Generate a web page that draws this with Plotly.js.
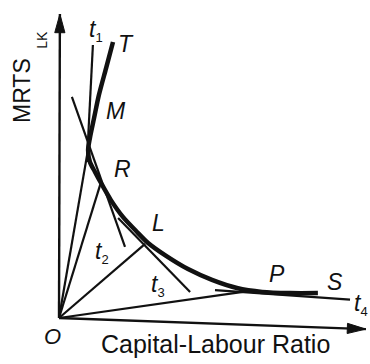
<!DOCTYPE html>
<html>
<head>
<meta charset="utf-8">
<script src="https://cdn.plot.ly/plotly-3.0.1.min.js"></script>
<style>
html, body { margin: 0; padding: 0; background: #fff; }
#chart { width: 370px; height: 364px; }
</style>
</head>
<body>
<div id="chart"></div>
<script>
// Isoquant running from T down to S (diagram units, O at the origin)
const curveX = [1.80, 1.57, 1.33, 1.17, 1.03, 0.97, 1.03, 1.20, 1.40, 1.73, 2.13, 2.57, 2.97, 3.57, 4.30, 5.10, 5.93, 6.77, 7.70, 8.63];
const curveY = [9.20, 8.33, 7.43, 6.67, 6.00, 5.60, 5.20, 4.87, 4.50, 3.93, 3.37, 2.90, 2.50, 2.07, 1.63, 1.27, 1.00, 0.87, 0.83, 0.83];

// Points on the isoquant, each joined to O by a ray
const pointNames = ['M', 'R', 'L', 'P'];
const pointX = [0.97, 1.40, 2.87, 6.13];
const pointY = [5.63, 4.53, 2.47, 0.87];

// Tangents t1..t4: start and end of each segment
const tangentNames = ['t1', 't2', 't3', 't4'];
const tangentX0 = [1.13, 0.43, 1.97, 5.20];
const tangentY0 = [9.10, 7.37, 3.33, 0.93];
const tangentX1 = [0.93, 2.20, 4.37, 9.70];
const tangentY1 = [5.20, 2.37, 0.87, 0.61];

// Axis arrow tips: [x-axis, y-axis]
const axisTipX = [10.23, 0.03];
const axisTipY = [-0.37, 10.13];

// Text
const xTitle = 'Capital-Labour Ratio';
const yTitle = 'MRTS';
const yTitleSub = 'LK';
const originLabel = 'O';
const endLabels = ['T', 'S'];

const INK = '#111';
const FONT = 'Liberation Sans, Arial, Helvetica, sans-serif';

function segs(x0, y0, x1, y1) {
  const xs = [], ys = [];
  for (let i = 0; i < x0.length; i++) {
    xs.push(x0[i], x1[i], null);
    ys.push(y0[i], y1[i], null);
  }
  return { xs, ys };
}

const rays = segs(pointX.map(() => 0), pointY.map(() => 0), pointX, pointY);
const tans = segs(tangentX0, tangentY0, tangentX1, tangentY1);
const axes = segs([0, 0], [0, 0], axisTipX, axisTipY);

const traces = [
  { x: axes.xs, y: axes.ys, mode: 'lines', line: { color: INK, width: 2.4 }, hoverinfo: 'skip' },
  { x: rays.xs, y: rays.ys, mode: 'lines', line: { color: INK, width: 2.2 }, hoverinfo: 'skip' },
  { x: tans.xs, y: tans.ys, mode: 'lines', line: { color: INK, width: 2.2 }, hoverinfo: 'skip' },
  { x: curveX, y: curveY, mode: 'lines', line: { color: INK, width: 4.5, shape: 'spline', smoothing: 0.8 }, hoverinfo: 'skip' }
];

// Arrowheads at the axis tips, pointing along each axis
function headPath(tx, ty, len, half) {
  const d = Math.hypot(tx, ty), ux = tx / d, uy = ty / d;
  const bx = tx - ux * len, by = ty - uy * len;
  const nx = -uy * half, ny = ux * half;
  return `M${tx},${ty} L${bx + nx},${by + ny} L${bx - nx},${by - ny} Z`;
}
const shapes = axisTipX.map((tx, i) => ({
  type: 'path', xref: 'x', yref: 'y',
  path: headPath(tx, axisTipY[i], 0.62, 0.17),
  fillcolor: INK, line: { color: INK, width: 1 }
}));

// Label placement
const pointLabelPos = { M: [1.90, 6.90], R: [2.13, 4.97], L: [3.30, 3.17], P: [7.27, 1.47] };
const endLabelPos = { T: [2.23, 9.13], S: [9.20, 1.20] };
const tangentLabelPos = [[1.23, 9.57], [1.43, 2.17], [3.30, 1.10], [9.76, 0.45]];

const ann = [];
const base = { xref: 'x', yref: 'y', showarrow: false, font: { family: FONT, size: 23, color: INK } };
pointNames.forEach(n => ann.push({ ...base, x: pointLabelPos[n][0], y: pointLabelPos[n][1], text: `<i>${n}</i>` }));
endLabels.forEach(n => ann.push({ ...base, x: endLabelPos[n][0], y: endLabelPos[n][1], text: `<i>${n}</i>` }));
tangentNames.forEach((n, i) => {
  const a = { ...base, x: tangentLabelPos[i][0], y: tangentLabelPos[i][1],
    text: `<i>t</i><sub><span style="font-size:13px">${n.slice(1)}</span></sub>` };
  if (i === 3) a.xanchor = 'left';
  ann.push(a);
});
ann.push({ ...base, x: -0.23, y: -0.63, text: `<i>${originLabel}</i>`, font: { family: FONT, size: 22, color: INK } });
ann.push({ ...base, x: 5.20, y: -0.87, text: xTitle, font: { family: FONT, size: 25, color: INK } });
ann.push({ ...base, x: -1.23, y: 7.57, text: yTitle, textangle: -90, font: { family: FONT, size: 23, color: INK } });
ann.push({ ...base, x: -0.57, y: 9.27, text: yTitleSub, textangle: -90, font: { family: FONT, size: 14, color: INK } });

const layout = {
  width: 370, height: 364,
  margin: { l: 0, r: 0, t: 0, b: 0, pad: 0 },
  paper_bgcolor: '#fff', plot_bgcolor: '#fff',
  showlegend: false,
  xaxis: { range: [-59 / 30, 311 / 30], visible: false, fixedrange: true },
  yaxis: { range: [-46 / 30, 318 / 30], visible: false, fixedrange: true },
  shapes: shapes,
  annotations: ann
};

Plotly.newPlot('chart', traces, layout, { displayModeBar: false, staticPlot: true });
</script>
</body>
</html>
